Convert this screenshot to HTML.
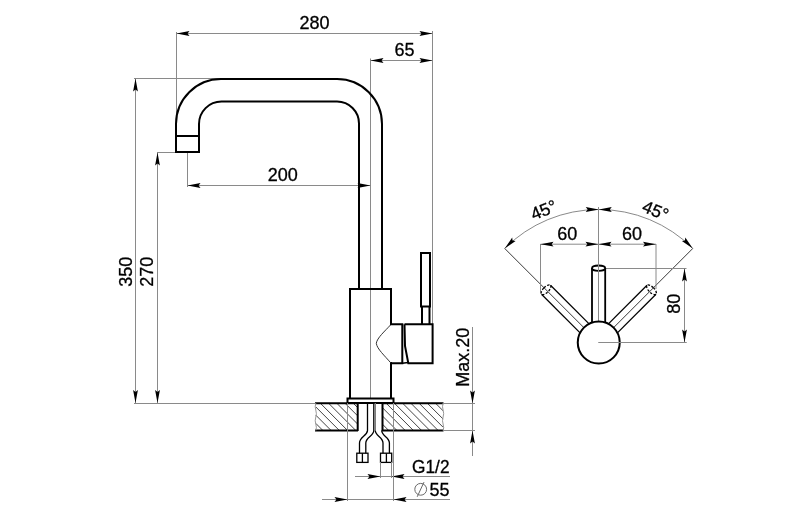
<!DOCTYPE html>
<html><head><meta charset="utf-8"><style>
html,body{margin:0;padding:0;background:#fff;}
svg{display:block;}
text{font-family:"Liberation Sans",sans-serif;fill:#000;stroke:#000;stroke-width:0.3px;}

</style></head><body><div style="will-change:transform;width:800px;height:526px">
<svg width="800" height="526" viewBox="0 0 800 526">
<rect width="800" height="526" fill="#fff"/>
<line x1="176.50" y1="32.00" x2="176.50" y2="124.00" stroke="#8a8a8a" stroke-width="1" />
<line x1="432.50" y1="31.00" x2="432.50" y2="324.00" stroke="#8a8a8a" stroke-width="1" />
<line x1="176.50" y1="33.50" x2="432.50" y2="33.50" stroke="#8a8a8a" stroke-width="1" />
<polygon points="176.50,33.50 189.50,31.10 187.60,33.50 189.50,35.90" fill="#000"/>
<polygon points="432.50,33.50 419.50,35.90 421.40,33.50 419.50,31.10" fill="#000"/>
<text x="314.50" y="23.00" font-size="18.0" text-anchor="middle" dominant-baseline="central">280</text>
<line x1="370.50" y1="58.50" x2="370.50" y2="398.00" stroke="#8a8a8a" stroke-width="1" />
<line x1="370.50" y1="60.50" x2="432.50" y2="60.50" stroke="#8a8a8a" stroke-width="1" />
<polygon points="370.50,60.50 383.50,58.10 381.60,60.50 383.50,62.90" fill="#000"/>
<polygon points="432.50,60.50 419.50,62.90 421.40,60.50 419.50,58.10" fill="#000"/>
<text x="404.50" y="49.80" font-size="18.0" text-anchor="middle" dominant-baseline="central">65</text>
<line x1="134.00" y1="78.50" x2="221.00" y2="78.50" stroke="#8a8a8a" stroke-width="1" />
<line x1="135.50" y1="78.50" x2="135.50" y2="403.00" stroke="#8a8a8a" stroke-width="1" />
<polygon points="135.50,78.50 137.90,91.50 135.50,89.60 133.10,91.50" fill="#000"/>
<polygon points="135.50,403.00 133.10,390.00 135.50,391.90 137.90,390.00" fill="#000"/>
<text x="125.60" y="271.70" font-size="18.0" text-anchor="middle" dominant-baseline="central" transform="rotate(-90 125.60 271.70)">350</text>
<line x1="157.00" y1="152.50" x2="176.00" y2="152.50" stroke="#8a8a8a" stroke-width="1" />
<line x1="157.50" y1="152.50" x2="157.50" y2="403.00" stroke="#8a8a8a" stroke-width="1" />
<polygon points="157.50,152.50 159.90,165.50 157.50,163.60 155.10,165.50" fill="#000"/>
<polygon points="157.50,403.00 155.10,390.00 157.50,391.90 159.90,390.00" fill="#000"/>
<text x="147.30" y="271.70" font-size="18.0" text-anchor="middle" dominant-baseline="central" transform="rotate(-90 147.30 271.70)">270</text>
<line x1="134.00" y1="403.50" x2="316.00" y2="403.50" stroke="#8a8a8a" stroke-width="1" />
<line x1="187.50" y1="152.00" x2="187.50" y2="187.00" stroke="#8a8a8a" stroke-width="1" />
<line x1="187.50" y1="185.50" x2="370.50" y2="185.50" stroke="#8a8a8a" stroke-width="1" />
<polygon points="187.50,185.50 200.50,183.10 198.60,185.50 200.50,187.90" fill="#000"/>
<polygon points="370.50,185.50 357.50,187.90 359.40,185.50 357.50,183.10" fill="#000"/>
<text x="282.80" y="175.40" font-size="18.0" text-anchor="middle" dominant-baseline="central">200</text>
<path d="M176,152 L176,124 A45,45 0 0 1 221,79 L337,79 A45,45 0 0 1 382,124 L382,289" fill="none" stroke="#000" stroke-width="2" />
<path d="M199,152 L199,124 A22.5,22.5 0 0 1 221.5,101.5 L337,101.5 A22,22 0 0 1 359,123.5 L359,289" fill="none" stroke="#000" stroke-width="2" />
<path d="M175,136 L200,136 M175,152 L200,152" fill="none" stroke="#000" stroke-width="2" />
<path d="M350,289 L391,289 M350,288 L350,399 M391,288 L391,325 M391,362 L391,399" fill="none" stroke="#000" stroke-width="2" />
<rect x="347.5" y="398.5" width="46" height="4.5" fill="none" stroke="#000" stroke-width="2"/>
<rect x="421" y="253" width="9" height="53.5" fill="none" stroke="#000" stroke-width="2"/>
<path d="M422,306.5 L422,324 M429.5,306.5 L429.5,324" fill="none" stroke="#000" stroke-width="2" />
<path d="M390,324.2 L402.3,324.2 L402.3,363.2 L390,363.2" fill="none" stroke="#000" stroke-width="2" />
<path d="M404.5,324.2 L432.6,324.2 L432.6,363.2 L408.3,363.2 L405,346 L404.5,324.2" fill="none" stroke="#000" stroke-width="2" />
<path d="M402.3,363.2 L408.3,362.5" fill="none" stroke="#000" stroke-width="1.5" />
<path d="M390.5,325 C385,331 377,338 376.3,343.3 C377,349 385,356 390.5,362.6" fill="none" stroke="#333" stroke-width="1" />
<line x1="315.80" y1="423.39" x2="322.91" y2="430.50" stroke="#444" stroke-width="1" />
<line x1="315.80" y1="415.16" x2="331.14" y2="430.50" stroke="#444" stroke-width="1" />
<line x1="315.80" y1="406.93" x2="339.37" y2="430.50" stroke="#444" stroke-width="1" />
<line x1="320.60" y1="403.50" x2="347.60" y2="430.50" stroke="#444" stroke-width="1" />
<line x1="328.83" y1="403.50" x2="355.83" y2="430.50" stroke="#444" stroke-width="1" />
<line x1="337.06" y1="403.50" x2="357.70" y2="424.14" stroke="#444" stroke-width="1" />
<line x1="345.29" y1="403.50" x2="357.70" y2="415.91" stroke="#444" stroke-width="1" />
<line x1="353.52" y1="403.50" x2="357.70" y2="407.68" stroke="#444" stroke-width="1" />
<line x1="382.50" y1="424.25" x2="388.75" y2="430.50" stroke="#444" stroke-width="1" />
<line x1="382.50" y1="416.02" x2="396.98" y2="430.50" stroke="#444" stroke-width="1" />
<line x1="382.50" y1="407.79" x2="405.21" y2="430.50" stroke="#444" stroke-width="1" />
<line x1="386.44" y1="403.50" x2="413.44" y2="430.50" stroke="#444" stroke-width="1" />
<line x1="394.67" y1="403.50" x2="421.67" y2="430.50" stroke="#444" stroke-width="1" />
<line x1="402.90" y1="403.50" x2="429.90" y2="430.50" stroke="#444" stroke-width="1" />
<line x1="411.13" y1="403.50" x2="438.13" y2="430.50" stroke="#444" stroke-width="1" />
<line x1="419.36" y1="403.50" x2="443.10" y2="427.24" stroke="#444" stroke-width="1" />
<line x1="427.59" y1="403.50" x2="443.10" y2="419.01" stroke="#444" stroke-width="1" />
<line x1="435.82" y1="403.50" x2="443.10" y2="410.78" stroke="#444" stroke-width="1" />
<path d="M315,403.2 L358,403.2 M382,403.2 L443.5,403.2 M315,430.5 L358,430.5 M382,430.5 L443.5,430.5" fill="none" stroke="#000" stroke-width="2" />
<path d="M357.7,403 L357.7,431 M382.5,403 L382.5,431" fill="none" stroke="#000" stroke-width="2" />
<path d="M315.8,403 q-1.2,4 0,7 q1.2,4 0,7 q-1.2,4 0,7 q1.2,4 0,6.5" fill="none" stroke="#999" stroke-width="1" />
<path d="M443.1,403 q-1.2,4 0,7 q1.2,4 0,7 q-1.2,4 0,7 q1.2,4 0,6.5" fill="none" stroke="#999" stroke-width="1" />
<line x1="443.00" y1="403.50" x2="475.00" y2="403.50" stroke="#8a8a8a" stroke-width="1" />
<line x1="443.00" y1="430.50" x2="475.00" y2="430.50" stroke="#8a8a8a" stroke-width="1" />
<path d="M367.5,403 L367.5,430.6 C367,436 359.5,437 359.5,443 L359.5,453.2" fill="none" stroke="#000" stroke-width="1.3" />
<path d="M373.8,403 L373.8,430.6 C373.8,436 365.8,437 365.8,443 L365.8,453.2" fill="none" stroke="#000" stroke-width="1.3" />
<line x1="375.30" y1="403.00" x2="375.30" y2="430.60" stroke="#777" stroke-width="1.3" />
<path d="M375.3,430.6 C375.3,436 383,437 383,443 L383,453.2" fill="none" stroke="#000" stroke-width="1.3" />
<path d="M381.7,430.6 C381.7,436 389.4,437 389.4,443 L389.4,453.2" fill="none" stroke="#000" stroke-width="1.3" />
<rect x="356.8" y="453.2" width="11.2" height="9.2" fill="none" stroke="#000" stroke-width="1.3"/>
<path d="M362.4,453.2 L362.4,462.4" fill="none" stroke="#000" stroke-width="1.3" />
<rect x="380.5" y="453.2" width="11.2" height="9.2" fill="none" stroke="#000" stroke-width="1.3"/>
<path d="M386.4,453.2 L386.4,462.4" fill="none" stroke="#000" stroke-width="1.3" />
<line x1="472.50" y1="327.00" x2="472.50" y2="456.00" stroke="#8a8a8a" stroke-width="1" />
<polygon points="472.50,403.50 470.10,390.50 472.50,392.40 474.90,390.50" fill="#000"/>
<polygon points="472.50,430.50 474.90,443.50 472.50,441.60 470.10,443.50" fill="#000"/>
<text x="463.20" y="357.20" font-size="18.0" text-anchor="middle" dominant-baseline="central" transform="rotate(-90 463.20 357.20)">Max.20</text>
<line x1="380.50" y1="462.00" x2="380.50" y2="478.00" stroke="#8a8a8a" stroke-width="1" />
<line x1="391.50" y1="462.00" x2="391.50" y2="478.00" stroke="#8a8a8a" stroke-width="1" />
<line x1="355.00" y1="476.50" x2="450.00" y2="476.50" stroke="#8a8a8a" stroke-width="1" />
<polygon points="380.50,476.50 367.50,478.90 369.40,476.50 367.50,474.10" fill="#000"/>
<polygon points="391.50,476.50 404.50,474.10 402.60,476.50 404.50,478.90" fill="#000"/>
<g transform="translate(449.5 0) scale(0.96 1) translate(-449.5 0)">
<text x="449.50" y="466.50" font-size="18.0" text-anchor="end" dominant-baseline="central">G1/2</text>
</g>
<line x1="347.50" y1="403.00" x2="347.50" y2="501.00" stroke="#8a8a8a" stroke-width="1" />
<line x1="393.50" y1="403.00" x2="393.50" y2="501.00" stroke="#8a8a8a" stroke-width="1" />
<line x1="322.00" y1="499.50" x2="450.00" y2="499.50" stroke="#8a8a8a" stroke-width="1" />
<polygon points="347.50,499.50 334.50,501.90 336.40,499.50 334.50,497.10" fill="#000"/>
<polygon points="393.50,499.50 406.50,497.10 404.60,499.50 406.50,501.90" fill="#000"/>
<text x="449.50" y="489.50" font-size="18.0" text-anchor="end" dominant-baseline="central">55</text>
<circle cx="420.7" cy="489.3" r="5.9" fill="none" stroke="#6a6a6a" stroke-width="1"/>
<line x1="417.20" y1="496.80" x2="424.00" y2="482.10" stroke="#6a6a6a" stroke-width="1" />
<line x1="598.50" y1="207.00" x2="598.50" y2="322.00" stroke="#8a8a8a" stroke-width="1" />
<path d="M504.70,248.45 A133,133 0 0 1 692.80,248.45" fill="none" stroke="#8a8a8a" stroke-width="1" />
<polygon points="598.75,209.50 585.75,211.90 587.65,209.50 585.75,207.10" fill="#000"/>
<polygon points="598.75,209.50 611.75,207.10 609.85,209.50 611.75,211.90" fill="#000"/>
<polygon points="504.70,248.45 512.20,237.57 512.55,240.61 515.59,240.96" fill="#000"/>
<polygon points="692.80,248.45 681.91,240.96 684.95,240.61 685.30,237.57" fill="#000"/>
<line x1="504.70" y1="248.45" x2="584.61" y2="328.36" stroke="#222" stroke-width="0.9" />
<line x1="692.80" y1="248.45" x2="612.89" y2="328.36" stroke="#222" stroke-width="0.9" />
<line x1="540.50" y1="244.00" x2="540.50" y2="292.50" stroke="#8a8a8a" stroke-width="1" />
<line x1="656.00" y1="244.00" x2="656.00" y2="289.00" stroke="#8a8a8a" stroke-width="1" />
<line x1="540.50" y1="244.20" x2="656.00" y2="244.20" stroke="#8a8a8a" stroke-width="1" />
<polygon points="540.50,244.20 553.50,241.80 551.60,244.20 553.50,246.60" fill="#000"/>
<polygon points="598.50,244.20 585.50,246.60 587.40,244.20 585.50,241.80" fill="#000"/>
<polygon points="598.50,244.20 611.50,241.80 609.60,244.20 611.50,246.60" fill="#000"/>
<polygon points="656.00,244.20 643.00,246.60 644.90,244.20 643.00,241.80" fill="#000"/>
<text x="567.30" y="234.00" font-size="18.0" text-anchor="middle" dominant-baseline="central">60</text>
<text x="632.00" y="234.00" font-size="18.0" text-anchor="middle" dominant-baseline="central">60</text>
<text x="543.60" y="210.00" font-size="17.5" text-anchor="middle" dominant-baseline="central" transform="rotate(-22.5 543.60 210.00)">45°</text>
<text x="655.60" y="210.50" font-size="17.5" text-anchor="middle" dominant-baseline="central" transform="rotate(22.5 655.60 210.50)">45°</text>
<line x1="605.60" y1="268.50" x2="686.50" y2="268.50" stroke="#8a8a8a" stroke-width="1" />
<line x1="598.25" y1="342.50" x2="686.50" y2="342.50" stroke="#8a8a8a" stroke-width="1" />
<line x1="684.50" y1="268.50" x2="684.50" y2="342.50" stroke="#8a8a8a" stroke-width="1" />
<polygon points="684.50,268.50 686.90,281.50 684.50,279.60 682.10,281.50" fill="#000"/>
<polygon points="684.50,342.50 682.10,329.50 684.50,331.40 686.90,329.50" fill="#000"/>
<text x="674.50" y="303.70" font-size="18.0" text-anchor="middle" dominant-baseline="central" transform="rotate(-90 674.50 303.70)">80</text>
<line x1="589.10" y1="323.85" x2="550.50" y2="285.25" stroke="#000" stroke-width="1.3" />
<line x1="580.10" y1="332.85" x2="541.50" y2="294.25" stroke="#000" stroke-width="1.3" />
<ellipse cx="546.00" cy="289.75" rx="2.8" ry="6.36" transform="rotate(-135.00 546.00 289.75)" fill="none" stroke="#000" stroke-width="1.3" stroke-dasharray="2.2,1.6"/>
<line x1="617.40" y1="332.85" x2="656.00" y2="294.25" stroke="#000" stroke-width="1.3" />
<line x1="608.40" y1="323.85" x2="647.00" y2="285.25" stroke="#000" stroke-width="1.3" />
<ellipse cx="651.50" cy="289.75" rx="2.8" ry="6.36" transform="rotate(-45.00 651.50 289.75)" fill="none" stroke="#000" stroke-width="1.3" stroke-dasharray="2.2,1.6"/>
<path d="M592,323 L592,268 M605.2,323 L605.2,268" fill="none" stroke="#000" stroke-width="1.8" />
<ellipse cx="598.6" cy="268.2" rx="6.6" ry="2.7" fill="#fff" stroke="#000" stroke-width="1.8"/>
<line x1="598.50" y1="207.00" x2="598.50" y2="322.00" stroke="#8a8a8a" stroke-width="1" />
<circle cx="598.75" cy="342.5" r="21" fill="#fff" stroke="#000" stroke-width="2"/>
<line x1="598.25" y1="342.50" x2="686.50" y2="342.50" stroke="#8a8a8a" stroke-width="1" />
</svg></div></body></html>
